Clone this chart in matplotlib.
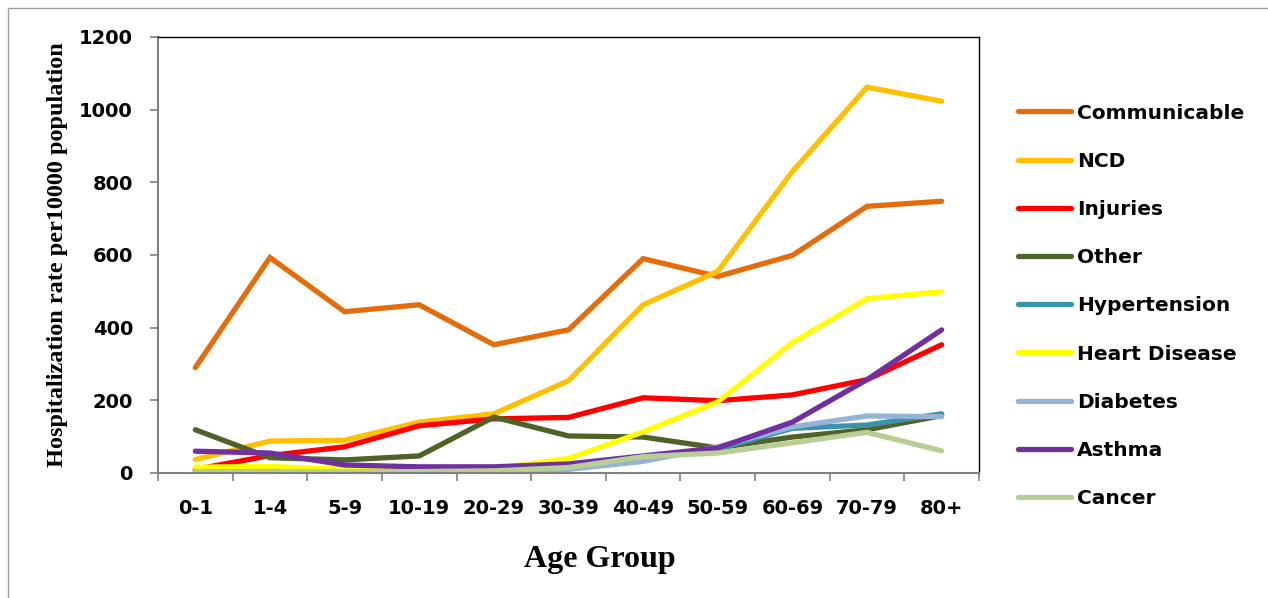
import matplotlib
matplotlib.use('Agg')
import matplotlib.pyplot as plt
from matplotlib.patches import Rectangle
import numpy as np

age_groups = ['0-1', '1-4', '5-9', '10-19', '20-29', '30-39', '40-49', '50-59', '60-69', '70-79', '80+']

communicable = [290, 593, 444, 463, 353, 394, 590, 541, 599, 734, 748]
ncd = [37, 88, 90, 140, 163, 254, 463, 555, 830, 1062, 1023]
injuries = [10, 48, 72, 130, 149, 153, 207, 199, 215, 257, 353]
other = [119, 42, 36, 47, 154, 102, 99, 69, 99, 119, 158]
hypertension = [4, 4, 4, 5, 6, 12, 42, 66, 123, 132, 163]
heart_disease = [16, 18, 10, 8, 12, 40, 113, 196, 359, 480, 499]
diabetes = [2, 2, 2, 3, 5, 10, 32, 72, 127, 157, 155]
asthma = [60, 55, 22, 17, 17, 25, 47, 69, 140, 257, 394]
cancer = [3, 3, 3, 4, 6, 15, 45, 55, 83, 112, 61]

series = [
    ('Communicable', communicable, '#E46C0A'),
    ('NCD', ncd, '#FFC000'),
    ('Injuries', injuries, '#FF0000'),
    ('Other', other, '#4F6228'),
    ('Hypertension', hypertension, '#3A93A8'),
    ('Heart Disease', heart_disease, '#FFFF00'),
    ('Diabetes', diabetes, '#95B3D7'),
    ('Asthma', asthma, '#7030A0'),
    ('Cancer', cancer, '#B8CE95'),
]

fig = plt.figure(figsize=(12.68, 5.98), dpi=100)
ax = fig.add_axes([158/1268, 125/598, (979-158)/1268, (473-37)/598])

x = np.arange(len(age_groups))
for name, vals, col in series:
    ax.plot(x, vals, color=col, lw=3.8, label=name, solid_capstyle='round', solid_joinstyle='miter')

ax.set_xlim(-0.5, len(age_groups) - 0.5)
ax.set_ylim(0, 1200)
ax.set_yticks(np.arange(0, 1201, 200))
ax.set_xticks(x)
ax.set_xticklabels(age_groups)
ax.set_xticks(np.arange(-0.5, len(age_groups), 1), minor=True)

ax.tick_params(axis='x', which='major', length=0, pad=19)
ax.tick_params(axis='x', which='minor', length=6, color='#808080', width=1.2)
ax.tick_params(axis='y', length=6, color='#808080', width=1.2, pad=12)
for lab in ax.get_xticklabels() + ax.get_yticklabels():
    lab.set_fontweight('bold')
    lab.set_fontsize(14)

for s in ['left', 'bottom']:
    ax.spines[s].set_color('#808080')
    ax.spines[s].set_linewidth(1.5)
for s in ['top', 'right']:
    ax.spines[s].set_color('black')
    ax.spines[s].set_linewidth(1.0)

ax.set_ylabel('Hospitalization rate per10000 population', family='Liberation Serif',
              fontweight='bold', fontsize=17.5)
ax.yaxis.set_label_coords(-90 / 821, 0.5)
ax.set_xlabel('Age Group', family='Liberation Serif', fontweight='bold', fontsize=23)
ax.xaxis.set_label_coords((600 - 158) / 821, -72 / 436)

leg = ax.legend(loc='upper left', bbox_to_anchor=(1.026, 0.889), frameon=False,
                prop={'weight': 'bold', 'size': 14.5}, handlelength=2.6, handletextpad=0.3,
                labelspacing=1.45)

fig.patches.append(Rectangle((8/1268, -0.05), 1.1, 1 - 8/598 + 0.05, transform=fig.transFigure,
                             fill=False, edgecolor='#A0A0A0', lw=1.0))

fig.savefig('out.png', dpi=100)
